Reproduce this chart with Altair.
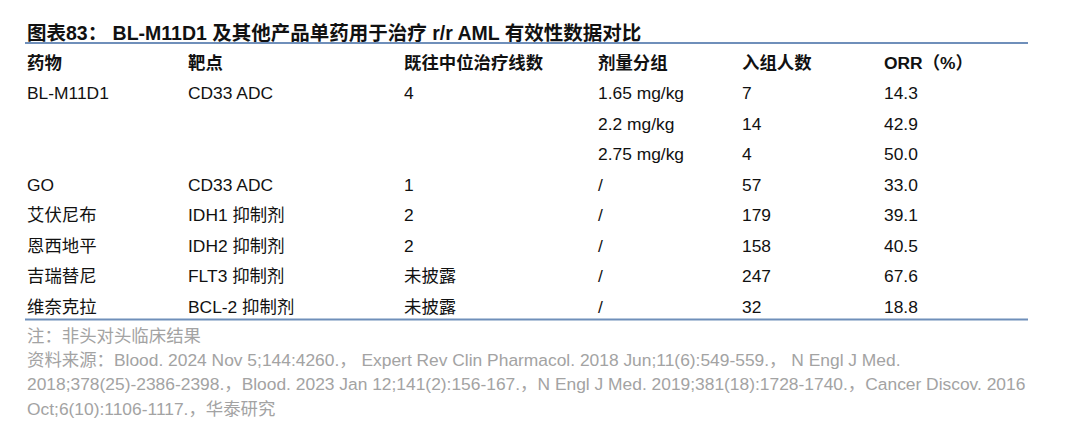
import altair as alt
import pandas as pd

# ---------------- data ----------------
TITLE = "图表83： BL-M11D1 及其他产品单药用于治疗 r/r AML 有效性数据对比"
HEADERS = ["药物", "靶点", "既往中位治疗线数", "剂量分组", "入组人数", "ORR（%）"]
drugs = ["BL-M11D1", "", "", "GO", "艾伏尼布", "恩西地平", "吉瑞替尼", "维奈克拉"]
targets = ["CD33 ADC", "", "", "CD33 ADC", "IDH1 抑制剂", "IDH2 抑制剂", "FLT3 抑制剂", "BCL-2 抑制剂"]
prior_lines = ["4", "", "", "1", "2", "2", "未披露", "未披露"]
doses = ["1.65 mg/kg", "2.2 mg/kg", "2.75 mg/kg", "/", "/", "/", "/", "/"]
enrolled = [7, 14, 4, 57, 179, 158, 247, 32]
orr = [14.3, 42.9, 50.0, 33.0, 39.1, 40.5, 67.6, 18.8]
NOTES = [
    "注：非头对头临床结果",
    "资料来源：Blood. 2024 Nov 5;144:4260.， Expert Rev Clin Pharmacol. 2018 Jun;11(6):549-559.， N Engl J Med.",
    "2018;378(25)-2386-2398.，Blood. 2023 Jan 12;141(2):156-167.，N Engl J Med. 2019;381(18):1728-1740.，Cancer Discov. 2016",
    "Oct;6(10):1106-1117.，华泰研究",
]

# ---------------- layout / style ----------------
FONT = "Liberation Sans, Arial, Noto Sans CJK SC, sans-serif"
COL_KEYS = ["drug", "target", "lines", "dose", "n", "orr"]
COL_X = {"drug": 19, "target": 180, "lines": 396, "dose": 590, "n": 734, "orr": 876}
RULE_COLOR = "#6f8fba"

body_slots = ["title", "header"] + [f"r{i+1}" for i in range(len(drugs))]
note_slots = [f"n{i+1}" for i in range(len(NOTES))]

records = []
for k, h in zip(COL_KEYS, HEADERS):
    records.append({"slot": "header", "col": k, "text": h, "kind": "header"})
for i in range(len(drugs)):
    vals = [drugs[i], targets[i], prior_lines[i], doses[i], str(enrolled[i]), f"{orr[i]:.1f}"]
    for k, v in zip(COL_KEYS, vals):
        if v:
            records.append({"slot": f"r{i+1}", "col": k, "text": v, "kind": "body"})
records.append({"slot": "title", "col": "drug", "text": TITLE, "kind": "title"})
table = pd.DataFrame(records)

notes_df = pd.DataFrame({"slot": note_slots, "text": NOTES})

y_body = alt.Y("slot:N", scale=alt.Scale(type="point", domain=body_slots, range=[25.5, 299.5], padding=0), axis=None)
y_notes = alt.Y("slot:N", scale=alt.Scale(type="point", domain=note_slots, range=[328.5, 401.5], padding=0), axis=None)

layers = []
base = alt.Chart(table)
for k in COL_KEYS:
    layers.append(
        base.transform_filter((alt.datum.col == k) & (alt.datum.kind == "body"))
        .mark_text(align="left", baseline="middle", font=FONT, fontSize=17.4, color="#111111")
        .encode(x=alt.value(COL_X[k]), y=y_body, text="text:N")
    )
    layers.append(
        base.transform_filter((alt.datum.col == k) & (alt.datum.kind == "header"))
        .mark_text(align="left", baseline="middle", font=FONT, fontSize=17.4, fontWeight="bold", color="#111111")
        .encode(x=alt.value(COL_X[k]), y=y_body, text="text:N")
    )
layers.append(
    base.transform_filter(alt.datum.kind == "title")
    .mark_text(align="left", baseline="middle", font=FONT, fontSize=19.5, fontWeight="bold", color="#111111")
    .encode(x=alt.value(COL_X["drug"]), y=y_body, text="text:N")
)
layers.append(
    alt.Chart(notes_df)
    .mark_text(align="left", baseline="middle", font=FONT, fontSize=17.4, color="#a3a3a3")
    .encode(x=alt.value(COL_X["drug"]), y=y_notes, text="text:N")
)
rule_df = pd.DataFrame({"k": [0]})
for yy in (35, 311.5):
    layers.append(
        alt.Chart(rule_df)
        .mark_rule(color=RULE_COLOR, strokeWidth=2)
        .encode(x=alt.value(17), x2=alt.value(1020), y=alt.value(yy))
    )

chart = (
    alt.layer(*layers)
    .resolve_scale(y="independent")
    .properties(width=1064, height=428, padding=0, background="white")
    .configure_view(stroke=None)
)

chart.save("out.html", embed_options={"renderer": "svg", "actions": False})
